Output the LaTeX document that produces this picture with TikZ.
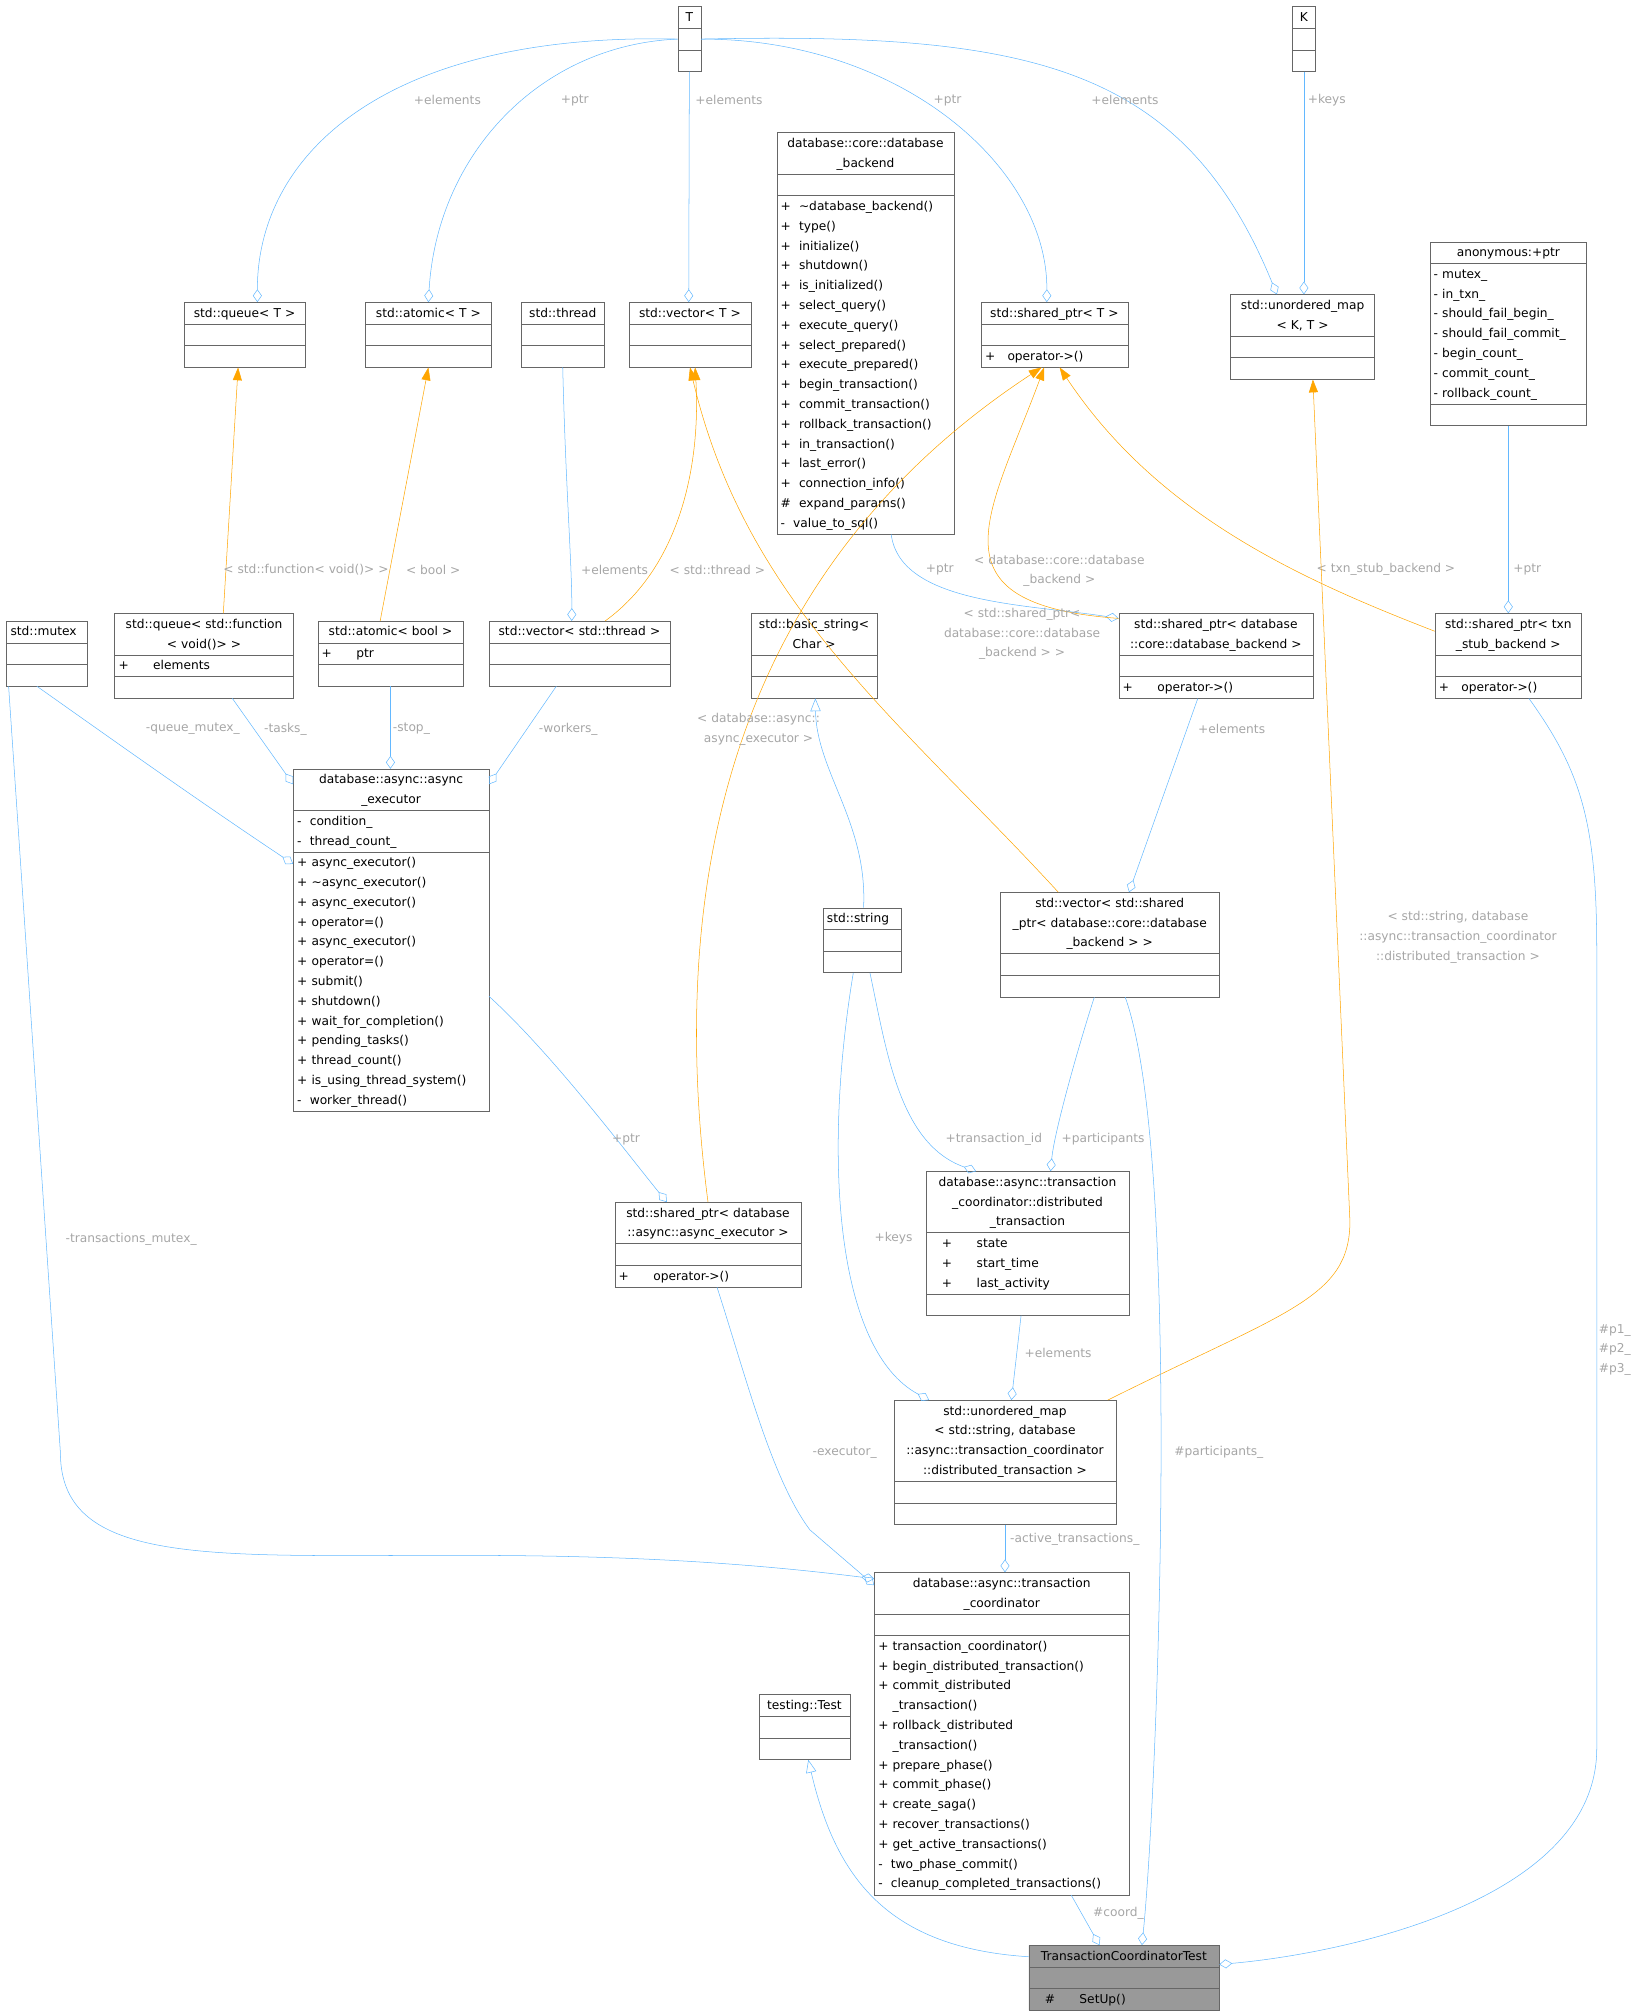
\documentclass[tikz,border=0pt]{standalone}
\usepackage{fontspec}
\setmainfont{DejaVu Sans}
\usetikzlibrary{shapes.multipart,arrows.meta}
\definecolor{edgeblue}{HTML}{63B8FF}
\definecolor{instorange}{HTML}{FFA500}
\newcommand{\fnt}{\fontsize{9.5}{15.4}\selectfont}
\newcommand{\lft}[1]{\begin{minipage}{\linewidth}\raggedright\strut#1\strut\end{minipage}}
\newcommand{\emp}{\strut}
\tikzset{
  cls/.style={draw=black!60, rectangle split, rectangle split parts=3,
    text width=#1, inner xsep=3pt, inner ysep=0.5pt, anchor=north west,
    font=\fnt, align=center},
  agg/.style={draw=edgeblue, -{Diamond[open,length=10pt,width=7pt]}},
  inst/.style={draw=instorange, -{Triangle[length=10pt,width=7pt]}},
  inh/.style={draw=edgeblue, -{Triangle[open,length=10pt,width=8pt]}},
  lbl/.style={font=\fnt, text=black!35, align=center}
}
\begin{document}
\begin{tikzpicture}[x=1pt,y=-1pt]
\useasboundingbox (0,0) rectangle (1275,1565);
% template classes
\node[cls=12pt] (T) at (527,5) {\strut T\nodepart{second}\emp\nodepart{third}\emp};
\node[cls=12pt] (K) at (1005,5) {\strut K\nodepart{second}\emp\nodepart{third}\emp};
\node[cls=88pt] (qT) at (143,235) {\strut std::queue< T >\nodepart{second}\emp\nodepart{third}\emp};
\node[cls=92pt] (aT) at (284,235) {\strut std::atomic< T >\nodepart{second}\emp\nodepart{third}\emp};
\node[cls=59pt] (thr) at (405,235) {\strut std::thread\nodepart{second}\emp\nodepart{third}\emp};
\node[cls=89pt] (vT) at (489,235) {\strut std::vector< T >\nodepart{second}\emp\nodepart{third}\emp};
\node[cls=132pt] (be) at (604,103) {\strut database::core::database\\\_backend\strut\nodepart{second}\emp\nodepart{third}
\lft{+\ \ \textasciitilde database\_backend()\\+\ \ type()\\+\ \ initialize()\\+\ \ shutdown()\\+\ \ is\_initialized()\\+\ \ select\_query()\\+\ \ execute\_query()\\+\ \ select\_prepared()\\+\ \ execute\_prepared()\\+\ \ begin\_transaction()\\+\ \ commit\_transaction()\\+\ \ rollback\_transaction()\\+\ \ in\_transaction()\\+\ \ last\_error()\\+\ \ connection\_info()\\\#\ \ expand\_params()\\-\ \ value\_to\_sql()}};
\node[cls=108pt] (spT) at (763,235) {\strut std::shared\_ptr< T >\nodepart{second}\emp\nodepart{third}\lft{+\quad operator->()}};
\node[cls=106pt] (umKT) at (957,229) {\strut std::unordered\_map\\< K, T >\strut\nodepart{second}\emp\nodepart{third}\emp};
\node[cls=116pt] (anon) at (1112,188) {\strut anonymous:+ptr\nodepart{second}\lft{- mutex\_\\- in\_txn\_\\- should\_fail\_begin\_\\- should\_fail\_commit\_\\- begin\_count\_\\- commit\_count\_\\- rollback\_count\_}\nodepart{third}\emp};
% instantiations
\node[cls=57pt] (mtx) at (5,483) {\lft{std::mutex}\nodepart{second}\emp\nodepart{third}\emp};
\node[cls=133pt] (qF) at (89,477) {\strut std::queue< std::function\\< void()> >\strut\nodepart{second}\lft{+\qquad elements}\nodepart{third}\emp};
\node[cls=107pt] (aB) at (247,483) {\strut std::atomic< bool >\nodepart{second}\lft{+\qquad ptr}\nodepart{third}\emp};
\node[cls=135pt] (vThr) at (380,483) {\strut std::vector< std::thread >\nodepart{second}\emp\nodepart{third}\emp};
\node[cls=92pt] (bs) at (584,477) {\strut std::basic\_string<\\Char >\strut\nodepart{second}\emp\nodepart{third}\emp};
\node[cls=145pt] (spBe) at (870,477) {\strut std::shared\_ptr< database\\::core::database\_backend >\strut\nodepart{second}\emp\nodepart{third}\lft{+\qquad operator->()}};
\node[cls=108pt] (spTxn) at (1116,477) {\strut std::shared\_ptr< txn\\\_stub\_backend >\strut\nodepart{second}\emp\nodepart{third}\lft{+\quad operator->()}};
\node[cls=146pt] (ex) at (228,598) {\strut database::async::async\\\_executor\strut\nodepart{second}\lft{-\ \ condition\_\\-\ \ thread\_count\_}\nodepart{third}
\lft{+\ async\_executor()\\+\ \textasciitilde async\_executor()\\+\ async\_executor()\\+\ operator=()\\+\ async\_executor()\\+\ operator=()\\+\ submit()\\+\ shutdown()\\+\ wait\_for\_completion()\\+\ pending\_tasks()\\+\ thread\_count()\\+\ is\_using\_thread\_system()\\-\ \ worker\_thread()}};
\node[cls=55pt] (str) at (640,706) {\lft{std::string}\nodepart{second}\emp\nodepart{third}\emp};
\node[cls=164pt] (vSp) at (778,694) {\strut std::vector< std::shared\\\_ptr< database::core::database\\\_backend > >\strut\nodepart{second}\emp\nodepart{third}\emp};
\node[cls=152pt] (dt) at (720,911) {\strut database::async::transaction\\\_coordinator::distributed\\\_transaction\strut\nodepart{second}\lft{\quad+\qquad state\\\quad+\qquad start\_time\\\quad+\qquad last\_activity}\nodepart{third}\emp};
\node[cls=139pt] (spEx) at (478,935) {\strut std::shared\_ptr< database\\::async::async\_executor >\strut\nodepart{second}\emp\nodepart{third}\lft{+\qquad operator->()}};
\node[cls=167pt] (umS) at (695,1089) {\strut std::unordered\_map\\< std::string, database\\::async::transaction\_coordinator\\::distributed\_transaction >\strut\nodepart{second}\emp\nodepart{third}\emp};
\node[cls=192pt] (co) at (680,1223) {\strut database::async::transaction\\\_coordinator\strut\nodepart{second}\emp\nodepart{third}
\lft{+\ transaction\_coordinator()\\+\ begin\_distributed\_transaction()\\+\ commit\_distributed\\\phantom{+\ }\_transaction()\\+\ rollback\_distributed\\\phantom{+\ }\_transaction()\\+\ prepare\_phase()\\+\ commit\_phase()\\+\ create\_saga()\\+\ recover\_transactions()\\+\ get\_active\_transactions()\\-\ \ two\_phase\_commit()\\-\ \ cleanup\_completed\_transactions()}};
\node[cls=65pt] (tt) at (590,1318) {\strut testing::Test\nodepart{second}\emp\nodepart{third}\emp};
\node[cls=142pt, fill=black!40] (tct) at (800,1513) {\strut TransactionCoordinatorTest\nodepart{second}\emp\nodepart{third}\lft{\quad\#\qquad SetUp()}};
% edges from the template parameters
\draw[agg] (T.west) .. controls (300,25) and (200,120) .. ([xshift=10pt]qT.north);
\node[lbl] (l1) at (348,78) {+elements};
\draw[agg] (T.west) .. controls (420,35) and (340,120) .. (aT.north);
\node[lbl] (l2) at (447,78) {+ptr};
\draw[agg] (T.south) -- ([xshift=-1pt]vT.north);
\node[lbl] (l3) at (567,78) {+elements};
\draw[agg] (T.east) .. controls (700,30) and (815,130) .. ([xshift=-6pt]spT.north);
\node[lbl] (l4) at (737,78) {+ptr};
\draw[agg] (T.east) .. controls (800,25) and (920,50) .. ([xshift=-20pt]umKT.north);
\node[lbl] (l5) at (875,78) {+elements};
\draw[agg] (K.south) -- (K.south |- umKT.north);
\node[lbl] (l6) at (1032,78) {+keys};
% instantiation edges
\draw[inst] ([xshift=15pt]qF.north) -- ([xshift=-5pt]qT.south);
\node[lbl] (l7) at (238,443) {< std::function< void()> >};
\draw[inst] ([xshift=-8pt]aB.north) -- (aT.south);
\node[lbl] (l8) at (337,443) {< bool >};
\draw[agg] (thr.south) .. controls (440,380) and (445,440) .. ([xshift=-6pt]vThr.north);
\node[lbl] (l9) at (478,443) {+elements};
\draw[inst] ([xshift=20pt]vThr.north) .. controls (530,440) and (545,360) .. ([xshift=4pt]vT.south);
\node[lbl] (l10) at (558,443) {< std::thread >};
\draw[agg] ([xshift=20pt]be.south) .. controls (700,470) and (800,470) .. ([yshift=-4pt]spBe.north west);
\node[lbl] (l11) at (731,443) {+ptr};
\draw[inst] ([yshift=-4pt]spBe.north west) .. controls (720,470) and (770,400) .. ([xshift=-8pt]spT.south);
\node[lbl] (l12) at (824,444) {< database::core::database\\\_backend >};
\draw[inst] ([yshift=-14pt]spTxn.north west) .. controls (1010,450) and (900,400) .. ([xshift=4pt]spT.south);
\node[lbl] (l13) at (1078,443) {< txn\_stub\_backend >};
\draw[agg] (anon.south) -- (anon.south |- spTxn.north);
\node[lbl] (l14) at (1188,443) {+ptr};
\draw[agg] ([xshift=-8pt]mtx.south) .. controls (80,570) and (150,620) .. ([yshift=-74pt]ex.north west);
\node[lbl] (l15) at (150,567) {-queue\_mutex\_};
\draw[agg] ([xshift=22pt]qF.south) -- ([yshift=-12pt]ex.north west);
\node[lbl] (l16) at (222,567) {-tasks\_};
\draw[agg] (aB.south) -- (aB.south |- ex.north);
\node[lbl] (l17) at (320,567) {-stop\_};
\draw[agg] ([xshift=-18pt]vThr.south) -- ([yshift=-12pt]ex.north east);
\node[lbl] (l18) at (442,567) {-workers\_};
\draw[inst] (spEx.north) .. controls (520,700) and (560,450) .. ([xshift=-10pt]spT.south);
\node[lbl] (l19) at (590,567) {< database::async::\\async\_executor >};
\draw[inst] ([xshift=-40pt]vSp.north) .. controls (700,560) and (580,470) .. (vT.south);
\node[lbl] (l20) at (795,493) {< std::shared\_ptr<\\database::core::database\\\_backend > >};
\draw[agg] ([xshift=-14pt]spBe.south) -- ([xshift=15pt]vSp.north);
\node[lbl] (l21) at (958,567) {+elements};
\draw[inh] ([xshift=1pt]str.north) .. controls (675,640) and (635,600) .. ([xshift=1pt]bs.south);
\draw[agg] ([yshift=-177pt]ex.north east) .. controls (430,820) and (490,900) .. ([xshift=-32pt]spEx.north);
\node[lbl] (l23) at (487,886) {+ptr};
\draw[agg] ([xshift=6pt]str.south) .. controls (690,820) and (700,890) .. ([xshift=-40pt]dt.north);
\node[lbl] (l24) at (773,886) {+transaction\_id};
\draw[agg] ([xshift=-12pt]vSp.south) .. controls (840,810) and (820,880) .. ([xshift=18pt]dt.north);
\node[lbl] (l25) at (858,886) {+participants};
\draw[agg] ([xshift=-7pt]str.south) .. controls (640,900) and (650,1050) .. ([xshift=-59pt]umS.north);
\node[lbl] (l26) at (695,963) {+keys};
\draw[agg] ([xshift=-5pt]dt.south) -- ([xshift=5pt]umS.north);
\node[lbl] (l27) at (823,1052) {+elements};
\draw[inst] ([xshift=80pt]umS.north) .. controls (1000,1020) and (1050,1010) .. (1050,950) -- ([xshift=8pt]umKT.south);
\node[lbl] (l28) at (1134,729) {< std::string, database\\::async::transaction\_coordinator\\::distributed\_transaction >};
\draw[agg] (umS.south) -- (umS.south |- co.north);
\node[lbl] (l29) at (836,1197) {-active\_transactions\_};
\draw[agg] ([xshift=-30pt]mtx.south) -- (47,1130) .. controls (47,1260) and (300,1180) .. ([yshift=-5pt]co.north west);
\node[lbl] (l30) at (102,964) {-transactions\_mutex\_};
\draw[agg] ([xshift=7pt]spEx.south) .. controls (580,1070) and (600,1150) .. (630,1190) -- ([yshift=-10pt]co.north west);
\node[lbl] (l31) at (657,1130) {-executor\_};
\draw[agg] ([xshift=12pt]vSp.south) .. controls (920,900) and (900,1400) .. ([xshift=14pt]tct.north);
\node[lbl] (l32) at (948,1130) {\#participants\_};
\draw[agg] ([xshift=54pt]co.south) -- ([xshift=-19pt]tct.north);
\node[lbl] (l33) at (870,1488) {\#coord\_};
\draw[inh] ([yshift=-9pt]tct.north west) .. controls (690,1515) and (650,1460) .. ([xshift=3pt]tt.south);
\draw[agg] ([xshift=16pt]spTxn.south) .. controls (1230,600) and (1242,640) .. (1242,740) -- (1242,1360) .. controls (1242,1480) and (1040,1520) .. ([yshift=-15pt]tct.north east);
\node[lbl, align=right] (l35) at (1256,1050) {\#p1\_\\\#p2\_\\\#p3\_};
\end{tikzpicture}
\end{document}
